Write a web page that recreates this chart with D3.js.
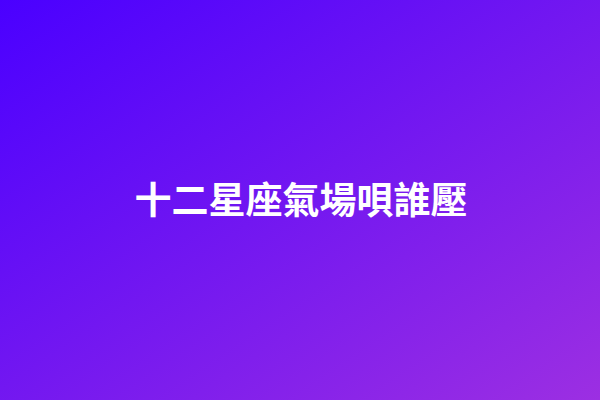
<html>
<head>
  <meta charset="utf-8">
  <title>十二星座氣場唄誰壓</title>
  <script src="https://d3js.org/d3.v7.min.js"></script>
  <style>
    body { margin: 0; overflow: hidden; }
  </style>
</head>
<body>
  <script>
    var titleText = ["十二星座氣場唄誰壓"];
    var stopOffsets = ["0%", "100%"];
    var stopColors = ["#4a00ff", "#9c2fe2"];

    var width = 600,
        height = 400;

    var svg = d3.select("body")
      .append("svg")
      .attr("width", width)
      .attr("height", height);

    var grad = svg.append("defs")
      .append("linearGradient")
      .attr("id", "bg")
      .attr("x1", "0%").attr("y1", "0%")
      .attr("x2", "100%").attr("y2", "100%");

    grad.selectAll("stop")
      .data(stopColors)
      .enter()
      .append("stop")
      .attr("offset", function(d, i) { return stopOffsets[i]; })
      .attr("stop-color", function(d) { return d; });

    svg.append("rect")
      .attr("width", width)
      .attr("height", height)
      .attr("fill", "url(#bg)");

    svg.selectAll("text.title")
      .data(titleText)
      .enter()
      .append("text")
      .attr("class", "title")
      .attr("x", width / 2 + 1)
      .attr("y", 198)
      .attr("text-anchor", "middle")
      .attr("dominant-baseline", "central")
      .attr("fill", "#fff")
      .style("font-family", "'Noto Sans CJK TC', sans-serif")
      .style("font-weight", "bold")
      .style("font-size", "37px")
      .text(function(d) { return d; });
  </script>
</body>
</html>
